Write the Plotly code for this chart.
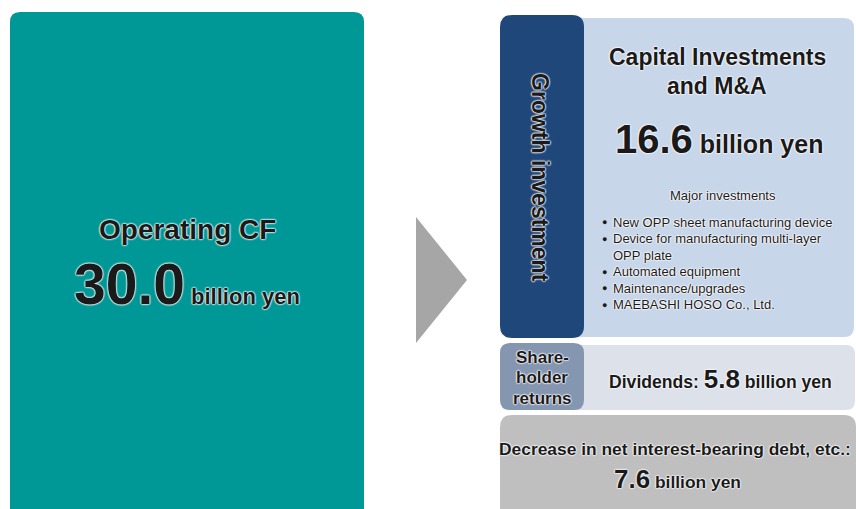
import plotly.graph_objects as go

# ---- data ----
operating_cf = 30.0
uses = ["Growth investment", "Shareholder returns", "Decrease in net interest-bearing debt, etc."]
use_values = [16.6, 5.8, 7.6]
growth_title = ["Capital Investments", "and M&A"]
major_title = "Major investments"
major_items = [
    ["New OPP sheet manufacturing device"],
    ["Device for manufacturing multi-layer", "OPP plate"],
    ["Automated equipment"],
    ["Maintenance/upgrades"],
    ["MAEBASHI HOSO Co., Ltd."],
]
unit = "billion yen"

FONT = "Arial, Liberation Sans, sans-serif"
GLOW = "0px 0px 2px #ffffff, 0px 0px 2px #ffffff, 0px 0px 2px #ffffff, 0px 0px 1px #ffffff"
TXT = "#1a1a1a"

W, H = 856, 509


def rrect(x0, y0, x1, y1, r):
    return (f"M{x0+r},{y0} L{x1-r},{y0} Q{x1},{y0} {x1},{y0+r} "
            f"L{x1},{y1-r} Q{x1},{y1} {x1-r},{y1} L{x0+r},{y1} "
            f"Q{x0},{y1} {x0},{y1-r} L{x0},{y0+r} Q{x0},{y0} {x0+r},{y0} Z")


shapes = []


def box(x0, y0, x1, y1, r, color):
    shapes.append(dict(type="path", path=rrect(x0, y0, x1, y1, r), xref="x", yref="y",
                       fillcolor=color, line=dict(width=0), layer="below"))


box(10, 12, 364, 530, 10, "#009896")
box(570, 18, 854, 337, 10, "#C8D6EA")
box(500, 15, 584, 338, 12, "#1F477A")
box(570, 345, 855, 410, 9, "#DCE1EA")
box(500, 343, 584, 410, 10, "#8496B0")
box(500, 415, 856, 530, 12, "#BFBFBF")
shapes.append(dict(type="path", path="M416,217 L467,280 L416,343 Z", xref="x", yref="y",
                   fillcolor="#A6A6A6", line=dict(width=0), layer="below"))

ann = []


def text(x, y, t, size, bold=True, xanchor="center", angle=0, glow=True, color=TXT, align="center"):
    ann.append(dict(x=x, y=y, xref="x", yref="y", text=t, showarrow=False,
                    xanchor=xanchor, yanchor="middle", textangle=angle, align=align,
                    font=dict(family=FONT, size=size, color=color,
                              weight="bold" if bold else "normal",
                              shadow=GLOW if glow else "none")))


# Operating CF
text(187, 229, "Operating CF", 28)
text(187, 284, f"<span style='font-size:57px'>{operating_cf:.1f}</span> {unit}", 22)

# Growth investment
text(540, 177, uses[0], 23, angle=90)
text(717, 57, growth_title[0], 23)
text(717, 86, growth_title[1], 23)
text(719, 139, f"<span style='font-size:40px'>{use_values[0]:.1f}</span> {unit}", 25)
text(723, 195, major_title, 13, bold=False)

y = 222
LINE = 16.9
for item in major_items:
    text(604, y, "●", 9, bold=False, glow=False)
    n = len(item)
    text(611, y + (n - 1) * LINE / 2, "<br>".join(item), 13, bold=False,
         xanchor="left", align="left")
    y += (n - 1) * LINE + 16.5

# Shareholder returns
for k, line in enumerate(["Share-", "holder", "returns"]):
    text(542, 357 + k * 20.5, line, 17)
text(720, 379, f"Dividends: <span style='font-size:26px'>{use_values[1]:.1f}</span> {unit}", 17.6)

# Decrease in debt
text(675, 449, uses[2] + ":", 17.4)
text(677, 479, f"<span style='font-size:26px'>{use_values[2]:.1f}</span> {unit}", 17.4)

fig = go.Figure()
fig.update_layout(
    width=W, height=H, margin=dict(l=0, r=0, t=0, b=0),
    paper_bgcolor="white", plot_bgcolor="white",
    xaxis=dict(range=[0, W], visible=False, fixedrange=True),
    yaxis=dict(range=[H, 0], visible=False, fixedrange=True),
    shapes=shapes, annotations=ann, showlegend=False,
)
fig.write_html("out.html", config={"displayModeBar": False},
               post_script="document.body.style.margin='0';document.body.style.overflow='hidden';")
